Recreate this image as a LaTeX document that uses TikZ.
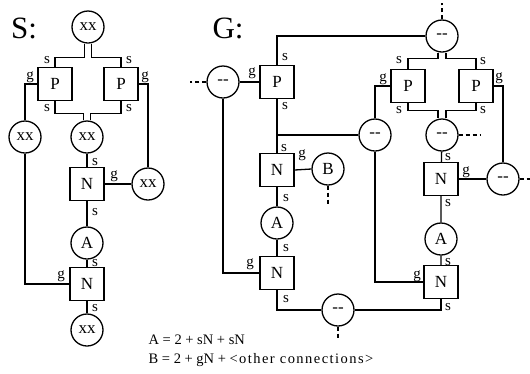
\documentclass[tikz,border=0pt]{standalone}
\usepackage{fontspec}
\setmainfont{Liberation Serif}
\begin{document}
\begin{tikzpicture}[x=1pt,y=-1pt,line width=1.3pt,
  box/.style={draw,fill=white,minimum width=34pt,minimum height=33pt,inner sep=0pt,font=\fontsize{17}{17}\selectfont},
  circ/.style={draw,fill=white,circle,minimum size=32pt,inner sep=0pt,font=\fontsize{17}{17}\selectfont},
  lbl/.style={inner sep=0pt,font=\fontsize{15}{15}\selectfont},
  stub/.style={dash pattern=on 4pt off 3pt},
  ttl/.style={inner sep=0pt,font=\fontsize{31}{31}\selectfont},
  eqn/.style={inner sep=0pt,anchor=west,font=\fontsize{14.5}{14.5}\selectfont}]
\useasboundingbox (0,0) rectangle (530,373);
% ---------- S ----------
\node[ttl] (sT) at (24,28) {S:};
\node[circ] (sxt) at (88,27) {xx};
\node[box] (sP1) at (55,84) {P};
\node[box] (sP2) at (121,84) {P};
\node[circ] (sxl) at (25,137) {xx};
\node[circ] (sxm) at (87,137) {xx};
\node[box] (sN1) at (87,184) {N};
\node[circ] (sxr) at (148,184) {xx};
\node[circ] (sA) at (87,243) {A};
\node[box] (sN2) at (87,284) {N};
\node[circ] (sxb) at (87,330) {xx};
\draw ([xshift=-3.5pt]sxt.south) -- ++(0,14) -| (sP1.north);
\draw ([xshift=3.5pt]sxt.south) -- ++(0,14) -| (sP2.north);
\draw (sP1.south) -- ++(0,12) -| ([xshift=-3.5pt]sxm.north);
\draw (sP2.south) -- ++(0,12) -| ([xshift=3.5pt]sxm.north);
\draw (sP1.west) -| (sxl.north);
\draw (sxl.south) |- (sN2.west);
\draw (sP2.east) -| (sxr.north);
\draw (sN1.east) -- (sxr.west);
\draw (sxm) -- (sN1) -- (sA) -- (sN2) -- (sxb);
\node[lbl] (s1) at (47,60) {s};
\node[lbl] (s2) at (129,60) {s};
\node[lbl] (s3) at (30,77) {g};
\node[lbl] (s4) at (145,77) {g};
\node[lbl] (s5) at (47,108) {s};
\node[lbl] (s6) at (129,108) {s};
\node[lbl] (s7) at (95,162) {s};
\node[lbl] (s8) at (114,176) {g};
\node[lbl] (s9) at (95,212) {s};
\node[lbl] (s10) at (95,263) {s};
\node[lbl] (s11) at (61,276) {g};
\node[lbl] (s12) at (95,308) {s};
% ---------- G ----------
\node[ttl] (gT) at (228,28) {G:};
\node[circ] (gt) at (442,36) {{-}{-}};
\node[circ] (gl) at (223,82) {{-}{-}};
\node[box] (gP) at (277,82) {P};
\node[box] (gN1) at (277,170) {N};
\node[circ] (gB) at (328,169) {B};
\node[circ] (gA) at (277,223) {A};
\node[box] (gN2) at (277,273) {N};
\node[circ] (gm) at (375,135) {{-}{-}};
\node[box] (rP1) at (408,86) {P};
\node[box] (rP2) at (476,86) {P};
\node[circ] (rc) at (442,135) {{-}{-}};
\node[box] (rN1) at (441,179) {N};
\node[circ] (rg) at (503,179) {{-}{-}};
\node[circ] (rA) at (441,239) {A};
\node[box] (rN2) at (441,282) {N};
\node[circ] (gb) at (338,310) {{-}{-}};
\draw (gP.north) |- (gt.west);
\draw[stub] (gt.north) -- ++(0,-16);
\draw[stub] (gl.west) -- ++(-16,0);
\draw (gl.east) -- (gP.west);
\draw (gl.south) |- (gN2.west);
\draw (gP.south) -- (gN1.north);
\draw (gP.south |- gm.west) -- (gm.west);
\draw (gN1.east) -- (gB.west);
\draw[stub] (gB.south) -- ++(0,18);
\draw (gN1) -- (gA) -- (gN2);
\draw (gN2.south) |- (gb.west);
\draw[stub] (gb.south) -- ++(0,12);
\draw (gm.north) |- (rP1.west);
\draw (gm.south) |- (rN2.west);
\draw ([xshift=-4pt]gt.south) -- ++(0,6) -| (rP1.north);
\draw ([xshift=4pt]gt.south) -- ++(0,6) -| (rP2.north);
\draw (rP1.south) -- ++(0,7) -| ([xshift=-4pt]rc.north);
\draw (rP2.south) -- ++(0,7) -| ([xshift=4pt]rc.north);
\draw[stub] (rc.east) -- ++(22,0);
\draw (rP2.east) -| (rg.north);
\draw (rN1.east) -- (rg.west);
\draw[stub] (rg.east) -- ++(14,0);
\draw (rc) -- (rN1) -- (rA) -- (rN2);
\draw (rN2.south) |- (gb.east);
\node[lbl] (g1) at (285,57) {s};
\node[lbl] (g2) at (252,73) {g};
\node[lbl] (g3) at (285,106) {s};
\node[lbl] (g4) at (284,148) {s};
\node[lbl] (g5) at (302,155) {g};
\node[lbl] (g6) at (286,198) {s};
\node[lbl] (g7) at (286,248) {s};
\node[lbl] (g8) at (250,264) {g};
\node[lbl] (g9) at (286,299) {s};
\node[lbl] (g10) at (399,60) {s};
\node[lbl] (g11) at (383,79) {g};
\node[lbl] (g12) at (399,110) {s};
\node[lbl] (g13) at (483,61) {s};
\node[lbl] (g14) at (499,78) {g};
\node[lbl] (g15) at (483,110) {s};
\node[lbl] (g16) at (448,157) {s};
\node[lbl] (g17) at (466,172) {g};
\node[lbl] (g18) at (448,203) {s};
\node[lbl] (g19) at (448,262) {s};
\node[lbl] (g20) at (417,276) {g};
\node[lbl] (g21) at (448,307) {s};
\node[eqn] (eA) at (148,340) {A = 2 + sN + sN};
\node[eqn] (eB) at (148,360) {B = 2 + gN + {\addfontfeatures{LetterSpace=10}<other connections>}};
\end{tikzpicture}
\end{document}
